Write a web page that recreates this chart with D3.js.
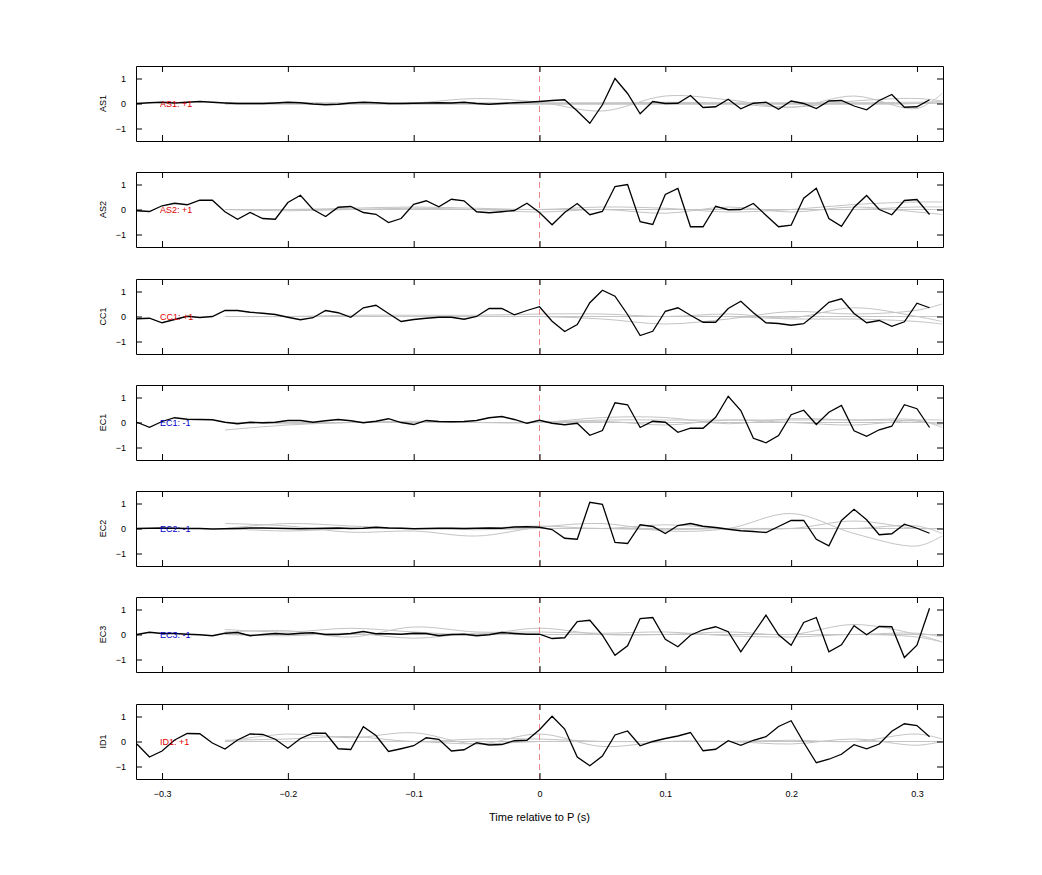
<!DOCTYPE html>
<html>
<head>
<meta charset="utf-8">
<script src="https://cdn.jsdelivr.net/npm/d3@7"></script>
<style>
  body { margin: 0; background: #fff; }
  text { font-family: "Liberation Sans", Arial, sans-serif; }
</style>
</head>
<body>
<svg id="chart" width="1042" height="875"></svg>
<script>
// Channel names and polarity
var channels = ['AS1', 'AS2', 'CC1', 'EC1', 'EC2', 'EC3', 'ID1'];
var polarity = [1, 1, 1, -1, -1, -1, 1];

// Sample times for black traces: -0.32 .. 0.31 step 0.01
var times = d3.range(64).map(function(i) { return Math.round((-0.32 + i * 0.01) * 100) / 100; });

// Black traces
var traceAS1 = [0,0.03,0.05,0.02,0.05,0.08,0.05,0.02,0,0,0,0.02,0.05,0.03,-0.02,-0.05,-0.03,0.02,0.05,0.03,0,0,0.01,0.02,0.03,0.02,0.05,0,-0.03,0,0.03,0.05,
  0.08,0.12,0.15,-0.3,-0.79,-0.05,1.0,0.4,-0.41,0.08,0,0.01,0.32,-0.16,-0.13,0.17,-0.21,0.01,0.05,-0.23,0.1,0,-0.2,0.1,0.12,-0.1,-0.25,0.12,0.36,-0.15,-0.13,0.15];
var traceAS2 = [-0.05,-0.08,0.15,0.25,0.19,0.37,0.37,-0.09,-0.39,-0.12,-0.36,-0.39,0.28,0.57,0,-0.28,0.09,0.12,-0.12,-0.19,-0.52,-0.36,0.21,0.35,0.11,0.41,0.35,-0.09,-0.13,-0.09,-0.04,0.25,
  -0.12,-0.61,-0.12,0.24,-0.21,-0.08,0.92,1.0,-0.49,-0.6,0.6,0.84,-0.69,-0.69,0.13,-0.01,0,0.24,-0.23,-0.69,-0.63,0.45,0.85,-0.36,-0.67,0.09,0.56,0,-0.21,0.36,0.4,-0.2];
var traceCC1 = [-0.09,-0.07,-0.25,-0.12,0.01,-0.04,0,0.24,0.24,0.17,0.13,0.08,-0.03,-0.13,-0.05,0.24,0.15,-0.03,0.35,0.45,0.12,-0.2,-0.12,-0.07,-0.03,-0.03,-0.11,0,0.32,0.32,0.07,0.24,
  0.39,-0.19,-0.6,-0.32,0.55,1.05,0.81,0.08,-0.76,-0.59,0.21,0.35,0.05,-0.23,-0.23,0.32,0.61,0.15,-0.25,-0.28,-0.35,-0.29,0.12,0.57,0.71,0.12,-0.25,-0.16,-0.39,-0.21,0.53,0.35];
var traceEC1 = [0.01,-0.19,0.04,0.19,0.13,0.12,0.11,0.01,-0.05,0.01,-0.01,0.01,0.08,0.08,0.01,0.07,0.12,0.07,-0.01,0.05,0.15,0,-0.08,0.08,0.04,0.03,0.04,0.08,0.19,0.24,0.12,-0.03,
  0.09,-0.03,-0.09,-0.03,-0.51,-0.32,0.79,0.71,-0.2,0.05,0.01,-0.39,-0.23,-0.23,0.21,1.05,0.48,-0.63,-0.81,-0.52,0.31,0.49,-0.08,0.41,0.68,-0.33,-0.55,-0.29,-0.15,0.71,0.55,-0.2];
var traceEC2 = [0,0.01,0.02,0.01,0,0,-0.02,-0.01,0,0.02,0.02,0.01,0,-0.01,0,0.01,0.02,0,0.01,0.05,0.02,0.01,-0.01,0,0.01,0.01,0,0.01,0.02,0.01,0.06,0.07,
  0.05,-0.04,-0.39,-0.43,1.05,0.97,-0.56,-0.6,0.15,0.08,-0.2,0.12,0.2,0.09,0.04,-0.03,-0.09,-0.12,-0.16,0.08,0.32,0.32,-0.43,-0.69,0.32,0.77,0.35,-0.25,-0.21,0.17,0.01,-0.19];
var traceEC3 = [0,0.09,0.04,0.04,0.01,-0.01,-0.05,0.05,0.08,-0.05,0,0.04,0.01,0.05,0.07,0,0,0.04,0.12,0.03,0.03,0.01,0.05,0.04,-0.05,0,0.01,-0.05,-0.01,0.08,0.04,0.01,
  0.01,-0.16,-0.13,0.52,0.57,-0.03,-0.83,-0.45,0.64,0.68,-0.19,-0.49,-0.03,0.19,0.31,0.11,-0.69,0.04,0.77,-0.01,-0.43,0.48,0.68,-0.69,-0.41,0.35,-0.01,0.32,0.31,-0.92,-0.43,1.05];
var traceID1 = [-0.1,-0.62,-0.38,0.06,0.32,0.31,-0.06,-0.3,0.06,0.3,0.28,0.09,-0.27,0.12,0.33,0.33,-0.29,-0.32,0.59,0.24,-0.4,-0.29,-0.17,0.15,0.09,-0.38,-0.33,-0.05,-0.14,-0.12,0.03,0.05,
  0.47,1.01,0.5,-0.62,-0.97,-0.58,0.26,0.42,-0.17,0,0.12,0.22,0.36,-0.37,-0.31,0.03,-0.15,0.05,0.19,0.6,0.83,-0.04,-0.85,-0.71,-0.51,-0.13,-0.29,-0.1,0.41,0.71,0.64,0.19];
var traces = [traceAS1, traceAS2, traceCC1, traceEC1, traceEC2, traceEC3, traceID1];

// Grey template traces, knots at these times
var knots = [-0.25,-0.2,-0.15,-0.1,-0.05,0,0.05,0.1,0.15,0.2,0.25,0.3,0.32];
var flat = [0,0,0,0,0,0,0,0,0,0,0,0,0];
var greyAS1 = [[0,0,0,0.02,0.2,0.05,-0.3,0.3,0.15,-0.15,0.3,-0.2,0.4],[0,0,0,0,0,0,0,0.05,0,-0.15,0.1,0.2,0.1],[0.03,0.03,0.03,0.03,0.03,0.03,0.03,0.03,0.03,0.03,0.03,0.05,0.05],[-0.03,-0.03,-0.03,-0.03,-0.03,-0.03,-0.03,-0.03,-0.03,-0.03,-0.03,0,0.1],flat];
var greyAS2 = [[0,0,0.05,0.1,0.05,0,0.1,0.05,-0.1,0,0.2,0.3,0.3],[0,-0.05,0,0.05,0,-0.1,0,-0.15,0.1,-0.1,0.1,-0.1,-0.2],[0,0,0,0,0,0,0,0,0,0,0,0.1,0.1],flat];
var greyCC1 = [[0,0,0,0,0,0,-0.1,-0.3,-0.1,0.2,0.1,0.25,0.5],[0,0,0.05,0.05,0.05,0.1,0.1,0,0.1,-0.05,0.35,0,-0.2],[0,0,0,0,0,0,0,0,0,-0.1,-0.1,-0.2,-0.3],flat];
var greyEC1 = [[-0.3,-0.1,0,0,0,0,0.2,0.2,-0.05,0.15,0.1,0.1,-0.2],[0,0,0,0,0,0,0.05,-0.1,0.1,0,-0.1,0.1,0.1],[0,-0.05,0,0.05,0,0,0.1,0.1,0.1,0.1,0.1,0.05,-0.1],flat];
var greyEC2 = [[0.2,0.1,-0.15,-0.1,-0.3,0.05,0.2,-0.1,0,0.6,-0.2,-0.7,-0.3],[0,0.2,0.1,0,0,0.1,0,0.15,0,0,0.3,0,0],[0,-0.1,0,0,-0.05,0,0,-0.05,0,0,0,0.1,-0.2],flat];
var greyEC3 = [[0.2,0.1,0.25,0.1,0,0.25,0,0,0.1,0,0.4,0,-0.3],[0.1,0.15,-0.1,0.3,0.1,0.1,0.05,0.1,-0.05,-0.1,0,-0.1,-0.3],[0,-0.05,0.05,-0.15,0.05,0,0,0,0,0,0,0.05,-0.1],flat];
var greyID1 = [[0,0.3,0.15,0.35,-0.1,0.3,-0.2,0,0,-0.1,0.1,-0.15,0],[0.05,0.1,0.2,0,0.1,0.1,0,0,0,0.05,0,0.3,0.1],[0,0,0,0,-0.1,0,0,0,0,0,0,0,0],flat];
var greys = [greyAS1, greyAS2, greyCC1, greyEC1, greyEC2, greyEC3, greyID1];

var xTicks = [-0.3, -0.2, -0.1, 0, 0.1, 0.2, 0.3];
var yTicks = [-1, 0, 1];

// Layout
var left = 136, right = 943, panelH = 75;
var panelTops = [66, 172, 279, 385, 491, 597, 704];

var svg = d3.select('#chart');
var x = d3.scaleLinear().domain([-0.3207, 0.3207]).range([left, right]);

channels.forEach(function(name, i) {
  var top = panelTops[i];
  var y = d3.scaleLinear().domain([-1.5, 1.5]).range([top + panelH, top]);
  var g = svg.append('g');

  // Clip to axes box
  var clipId = 'clip' + i;
  svg.append('clipPath').attr('id', clipId).append('rect')
    .attr('x', left).attr('y', top).attr('width', right - left).attr('height', panelH);

  var plot = g.append('g').attr('clip-path', 'url(#' + clipId + ')');

  // Grey templates
  var greyLine = d3.line()
    .x(function(d, k) { return x(knots[k]); })
    .y(function(d) { return y(d); })
    .curve(d3.curveCatmullRom);
  greys[i].forEach(function(s) {
    plot.append('path').attr('d', greyLine(s))
      .attr('fill', 'none').attr('stroke', '#c4c4c4').attr('stroke-width', 1);
  });

  // Zero-time marker
  plot.append('line')
    .attr('x1', x(0)).attr('x2', x(0)).attr('y1', top).attr('y2', top + panelH)
    .attr('stroke', '#e88').attr('stroke-width', 1).attr('stroke-dasharray', '6,4');

  // Black trace
  var line = d3.line()
    .x(function(d, k) { return x(times[k]); })
    .y(function(d) { return y(d); });
  plot.append('path').attr('d', line(traces[i]))
    .attr('fill', 'none').attr('stroke', '#000').attr('stroke-width', 1.3);

  // Polarity label
  g.append('text')
    .attr('x', 160).attr('y', y(0) + 3.5)
    .attr('font-size', 9)
    .attr('fill', polarity[i] > 0 ? '#d00' : '#00c')
    .text(name + ': ' + (polarity[i] > 0 ? '+1' : '-1'));

  // Axes (ticks inside, box style)
  var ax = function(axis, tr) {
    var a = g.append('g').attr('transform', tr).call(axis);
    a.select('.domain').attr('stroke', '#000');
    a.selectAll('.tick line').attr('stroke', '#000');
    a.selectAll('text').attr('font-size', 9).attr('fill', '#000');
    return a;
  };
  ax(d3.axisLeft(y).tickValues(yTicks).tickSizeInner(-6).tickSizeOuter(0).tickPadding(10)
      .tickFormat(d3.format('d')), 'translate(' + left + ',0)');
  ax(d3.axisRight(y).tickValues(yTicks).tickSizeInner(-6).tickSizeOuter(0).tickFormat(''),
    'translate(' + right + ',0)');
  ax(d3.axisTop(x).tickValues(xTicks).tickSizeInner(-6).tickSizeOuter(0).tickFormat(''),
    'translate(0,' + top + ')');
  var bottom = ax(d3.axisBottom(x).tickValues(xTicks).tickSizeInner(-6).tickSizeOuter(0).tickPadding(12)
      .tickFormat(i === channels.length - 1 ? function(d) { return d === 0 ? '0' : d3.format('.1f')(d); } : ''),
    'translate(0,' + (top + panelH) + ')');

  // Channel label
  g.append('text')
    .attr('transform', 'translate(106,' + (top + panelH / 2) + ') rotate(-90)')
    .attr('text-anchor', 'middle').attr('font-size', 9)
    .text(name);
});

// X axis title
svg.append('text')
  .attr('x', x(0)).attr('y', 821)
  .attr('text-anchor', 'middle').attr('font-size', 11)
  .text('Time relative to P (s)');
</script>
</body>
</html>
